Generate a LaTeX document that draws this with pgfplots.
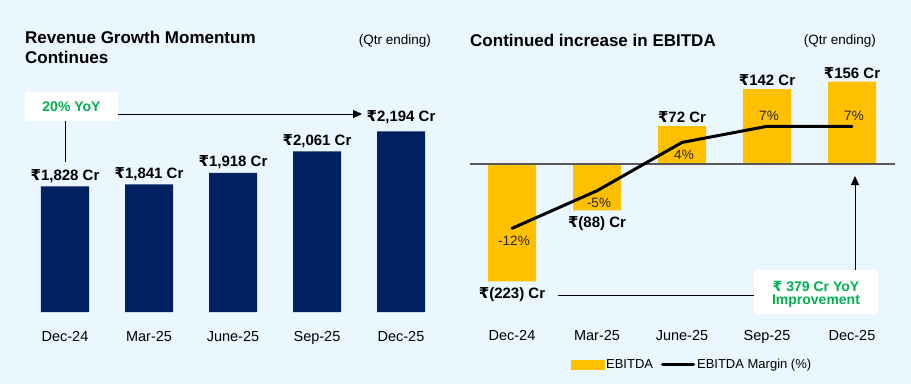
\documentclass[border=0pt]{standalone}
\usepackage{fontspec}
\setmainfont{Liberation Sans}
\newfontfamily\rupfont{DejaVu Sans}
\usepackage{pgfplots}
\pgfplotsset{compat=1.18}
\usetikzlibrary{arrows.meta}
\definecolor{bgc}{RGB}{235,247,254}
\definecolor{navy}{RGB}{0,32,96}
\definecolor{ebitda}{RGB}{255,192,0}
\definecolor{grn}{RGB}{0,176,80}
\newcommand\rupee{{\rupfont ₹}}
\newcommand\fs[1]{\fontsize{#1}{#1}\selectfont}
\begin{document}
\begin{tikzpicture}[x=1pt,y=1pt]
\fill[bgc] (0,0) rectangle (911,384);
% titles
\node[anchor=base west, inner sep=0, font=\bfseries\fs{17}] at (25,340.7) {Revenue Growth Momentum};
\node[anchor=base west, inner sep=0, font=\bfseries\fs{17}] at (25,321) {Continues};
\node[anchor=base east, inner sep=0, font=\fs{13.5}] at (431,339) {(Qtr ending)};
\node[anchor=base west, inner sep=0, font=\bfseries\fs{17}] at (470,337.3) {Continued increase in EBITDA};
\node[anchor=base east, inner sep=0, font=\fs{13.5}] at (876,339) {(Qtr ending)};

\pgfplotsset{every axis/.append style={scale only axis, clip=false,
  axis line style={draw=none}, tick style={draw=none}, major tick length=0pt,
  ytick=\empty, xmin=-0.5, xmax=4.5, anchor=south west}}

% left revenue chart
\begin{axis}[at={(23pt,72pt)}, width=420pt, height=210pt,
  ymin=990, ymax=2390,
  xtick={0,1,2,3,4}, xticklabels={Dec-24,Mar-25,June-25,Sep-25,Dec-25},
  xticklabel style={font=\fs{14.5}, yshift=-16pt},
  ybar, bar width=48pt, bar shift=0pt,
  point meta=explicit symbolic,
  every node near coord/.append style={font=\bfseries\fs{15}, text=black}]
\addplot[fill=navy, draw=none] coordinates {
  (0,1828) (1,1841) (2,1918) (3,2061) (4,2194)
};
\addplot[draw=none, fill=none, nodes near coords={\rupee\pgfplotspointmeta\ Cr},
  nodes near coords style={anchor=south}]
  coordinates {(0,1828) [{1,828}] (1,1841) [{1,841}] (2,1918) [{1,918}] (3,2061) [{2,061}]};
\addplot[draw=none, fill=none, nodes near coords={\rupee\pgfplotspointmeta\ Cr},
  nodes near coords style={anchor=south, yshift=4pt}]
  coordinates {(4,2194) [{2,194}]};
\end{axis}

% left annotation
\draw[black, line width=1pt] (65,263) -- (65,222);
\draw[black, line width=1pt, -{Triangle[length=9pt,width=8pt]}] (118,270) -- (362,270);
\fill[white] (25,263) rectangle (118,292);
\node[font=\bfseries\fs{14}, text=grn] at (71.5,277.5) {20\% YoY};

% right EBITDA chart
\begin{axis}[at={(469.5pt,72pt)}, width=425pt, height=253.5pt,
  ymin=-281, ymax=200,
  xtick={0,1,2,3,4}, xticklabels={Dec-24,Mar-25,June-25,Sep-25,Dec-25},
  xticklabel style={font=\fs{14.5}, yshift=-15pt},
  ybar, bar width=48pt, bar shift=0pt,
  point meta=explicit symbolic,
  every node near coord/.append style={font=\bfseries\fs{15}, text=black}]
\addplot[fill=ebitda, draw=none] coordinates {
  (0,-223) (1,-88) (2,72) (3,142) (4,156)
};
\addplot[draw=none, fill=none, nodes near coords={\rupee\pgfplotspointmeta\ Cr},
  nodes near coords style={anchor=south}]
  coordinates {(2,72) [{72}] (3,142) [{142}] (4,156) [{156}]};
\addplot[draw=none, fill=none, nodes near coords={\rupee\pgfplotspointmeta\ Cr},
  nodes near coords style={anchor=north, yshift=-3pt}]
  coordinates {(0,-223) [{(223)}] (1,-88) [{(88)}]};
\draw[black!65, line width=1.4pt] (axis cs:-0.5,0) -- (axis cs:4.5,0);
\end{axis}

% margin axis
\begin{axis}[at={(469.5pt,72pt)}, width=425pt, height=253.5pt,
  ymin=-27.576, ymax=19.627, xtick=\empty,
  legend style={at={(0.5235,-0.209)}, anchor=center, draw=none, fill=none,
    legend columns=2, font=\fs{13},
    /tikz/every even column/.append style={column sep=6pt}},
  legend cell align=left]
\addlegendimage{legend image code/.code={\fill[ebitda] (0pt,-4.5pt) rectangle (33pt,4.5pt);}}
\addlegendentry{EBITDA}
\addlegendimage{legend image code/.code={\draw[black, line width=3pt, line cap=round] (1pt,0pt) -- (32pt,0pt);}}
\addlegendentry{EBITDA Margin (\%)}
\addplot[black, line width=3pt, mark=none, line cap=round, line join=round] coordinates {(0,-12) (1,-5) (2,4) (3,7) (4,7)};
\addplot[draw=none, mark=none, point meta=explicit symbolic, nodes near coords,
  nodes near coords style={anchor=north, font=\fs{13.5}, text=black!85, yshift=-4pt, xshift=2pt}]
  coordinates {(0,-12) [-12\%] (1,-5) [-5\%] (2,4) [4\%]};
\addplot[draw=none, mark=none, point meta=explicit symbolic, nodes near coords,
  nodes near coords style={anchor=south, font=\fs{13.5}, text=black!85, yshift=2pt, xshift=2pt}]
  coordinates {(3,7) [7\%] (4,7) [7\%]};
\end{axis}

% right annotation
\draw[black, line width=1pt] (558,89) -- (754,89);
\draw[black, line width=1pt, -{Triangle[length=9pt,width=8pt]}] (855,114) -- (855,208);
\fill[white] (754,70) rectangle (878,114);
\node[font=\bfseries\fs{14}, text=grn] at (816,98) {\rupee\ 379 Cr YoY};
\node[font=\bfseries\fs{14}, text=grn] at (816,83) {Improvement};
\end{tikzpicture}
\end{document}
